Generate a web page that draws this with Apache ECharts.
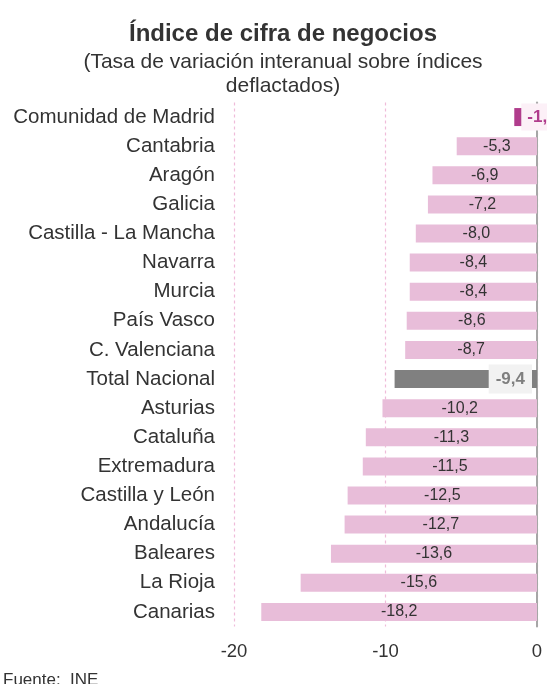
<!DOCTYPE html>
<html>
<head>
<meta charset="utf-8">
<script src="https://cdn.jsdelivr.net/npm/echarts@6/dist/echarts.min.js"></script>
<style>html,body{margin:0;padding:0;background:#fff}#c{width:547px;height:684px}</style>
</head>
<body>
<div id="c"></div>
<script>
const categories = ["Comunidad de Madrid","Cantabria","Aragón","Galicia","Castilla - La Mancha","Navarra","Murcia","País Vasco","C. Valenciana","Total Nacional","Asturias","Cataluña","Extremadura","Castilla y León","Andalucía","Baleares","La Rioja","Canarias"];
const values = [-1.5,-5.3,-6.9,-7.2,-8.0,-8.4,-8.4,-8.6,-8.7,-9.4,-10.2,-11.3,-11.5,-12.5,-12.7,-13.6,-15.6,-18.2];
const xTicks = [-20,-10,0];
const titleText = "Índice de cifra de negocios";
const subtitleText = "(Tasa de variación interanual sobre índices\ndeflactados)";
const sourceText = "Fuente:  INE";

const FONT = "'Liberation Sans', Arial, sans-serif";
const fmt = v => v.toFixed(1).replace('.', ',');

const data = values.map((v, i) => {
  const name = categories[i];
  if (name === "Comunidad de Madrid") {
    return { value: v, itemStyle: { color: '#b03c8c' },
      label: { position: 'insideLeft', distance: 7, color: '#b03c8c', fontWeight: 'bold', fontSize: 17,
        backgroundColor: '#fcf0f7', padding: [5, 6] } };
  }
  if (name === "Total Nacional") {
    return { value: v, itemStyle: { color: '#808080' },
      label: { position: 'insideRight', distance: 5, color: '#7f7f7f', fontWeight: 'bold', fontSize: 17,
        backgroundColor: '#f2f2f2', padding: [6, 7] } };
  }
  return { value: v };
});

const chart = echarts.init(document.getElementById('c'));
chart.setOption({
  animation: false,
  textStyle: { fontFamily: FONT },
  title: [
    { text: titleText, left: 278, textAlign: 'center', top: 17,
      textStyle: { fontFamily: FONT, fontSize: 24, fontWeight: 'bold', color: '#333' } },
    { text: subtitleText, left: 278, textAlign: 'center', top: 45,
      textStyle: { fontFamily: FONT, fontSize: 21, fontWeight: 'normal', color: '#333', lineHeight: 24 } },
    { text: sourceText, left: -2, top: 667,
      textStyle: { fontFamily: FONT, fontSize: 17, fontWeight: 'normal', color: '#333' } }
  ],
  grid: { left: 234, right: 10, top: 102.5, bottom: 57.5, containLabel: false },
  xAxis: {
    type: 'value', min: xTicks[0], max: xTicks[xTicks.length - 1], interval: 10,
    axisLine: { show: false }, axisTick: { show: false },
    axisLabel: { fontSize: 18.5, color: '#333', margin: 16, fontFamily: FONT },
    splitLine: { show: true, lineStyle: { color: '#efbcda', type: [3, 3], width: 1.2 } }
  },
  yAxis: [
    { type: 'category', data: categories, inverse: true,
      axisLine: { show: false }, axisTick: { show: false },
      axisLabel: { fontSize: 20.5, color: '#333', margin: 19, fontFamily: FONT } },
    { type: 'category', data: categories, inverse: true, position: 'right',
      axisLine: { show: true, onZero: false, lineStyle: { color: '#a6a6a6', width: 2 } },
      axisTick: { show: false }, axisLabel: { show: false } }
  ],
  series: [{
    type: 'bar', yAxisIndex: 0, data: data, barWidth: 18,
    itemStyle: { color: '#e8bdd9' },
    label: { show: true, position: 'inside', color: '#333', fontSize: 16, fontFamily: FONT,
      formatter: p => fmt(p.value) }
  }]
});
</script>
</body>
</html>
